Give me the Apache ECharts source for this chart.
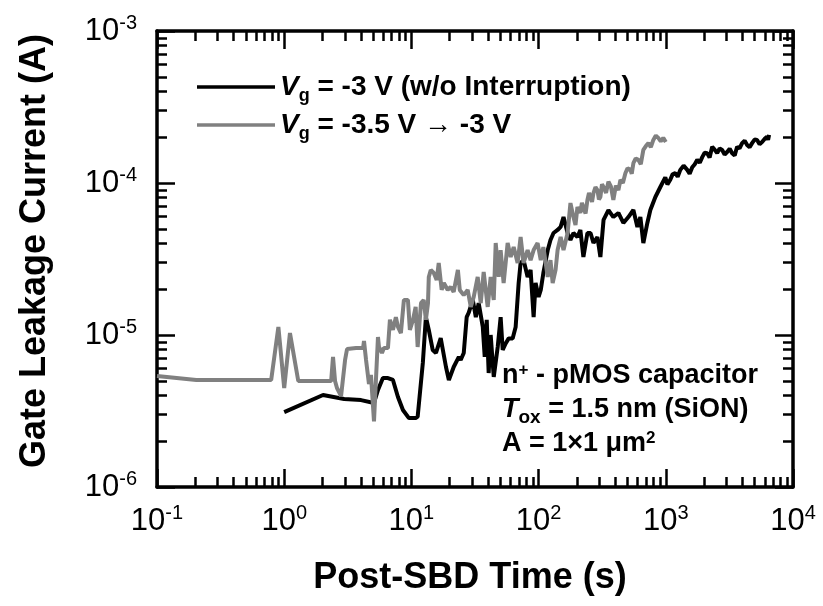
<!DOCTYPE html>
<html><head><meta charset="utf-8">
<script src="https://cdn.jsdelivr.net/npm/echarts@6/dist/echarts.min.js"></script>
<style>html,body{margin:0;padding:0;background:#fff}#c{width:823px;height:606px}</style>
</head><body><div id="c"></div>
<script>
// ---- data (time in s, current in A) ----
const timeBlack = [1.0,2.02,2.96,4.02,5.08,5.46,5.97,6.54,7.16,7.84,8.58,9.56,10.8,11.2,12.3,13.0,13.7,14.7,15.6,17.0,18.7,19.7,21.5,23.6,24.4,25.8,27.2,28.2,30.4,32.1,33.8,36.4,37.7,39.1,40.5,42.0,43.6,44.4,47.7,50.3,52.2,55.1,58.2,62.5,66.0,69.7,72.2,76.2,82.0,86.5,91.4,94.7,100,104,109,118,124,131,141,149,157,169,178,188,202,213,225,242,256,270,290,306,324,354,387,424,464,508,556,598,631,666,716,756,828,906,991,1030,1084,1130,1188,1240,1300,1380,1475,1540,1614,1690,1767,1850,1934,2020,2116,2210,2316,2420,2535,2650,2774,2900,3036,3180,3323,3480,3637,3800,3981,4170,4357,4560,4768,4990,5219,5460,5711,5980,6251,6370,6486];
const currentBlack = [3.11e-6,4.03e-6,3.79e-6,3.73e-6,3.57e-6,4.35e-6,5.21e-6,5.21e-6,5.06e-6,3.91e-6,3.21e-6,2.84e-6,2.84e-6,2.9e-6,6.55e-6,1.31e-5,1.08e-5,7.97e-6,7.62e-6,9.55e-6,6.16e-6,5.06e-6,6.16e-6,7.17e-6,6.85e-6,7.62e-6,1.31e-5,1.40e-5,1.70e-5,1.31e-5,1.62e-5,1.13e-5,7.17e-6,1.26e-5,5.62e-6,1.0e-5,6.5e-6,5.3e-6,8.34e-6,1.31e-5,7.97e-6,8.8e-6,9.5e-6,9.5e-6,1.13e-5,2.20e-5,2.98e-5,3.11e-5,2.41e-5,2.68e-5,1.31e-5,2.20e-5,1.78e-5,1.98e-5,2.56e-5,3.62e-5,4.22e-5,4.69e-5,4.91e-5,5.14e-5,5.97e-5,4.69e-5,4.22e-5,4.69e-5,4.41e-5,4.91e-5,3.26e-5,4.69e-5,4.69e-5,4.03e-5,4.41e-5,3.26e-5,5.71e-5,6.64e-5,5.97e-5,6.35e-5,5.46e-5,5.97e-5,6.64e-5,5.14e-5,5.97e-5,4.03e-5,5.46e-5,6.64e-5,8.09e-5,9.41e-5,1.09e-4,0.98e-4,1.05e-4,1.14e-4,1.16e-4,1.10e-4,1.22e-4,1.30e-4,1.22e-4,1.15e-4,1.27e-4,1.33e-4,1.42e-4,1.36e-4,1.48e-4,1.58e-4,1.57e-4,1.47e-4,1.73e-4,1.66e-4,1.57e-4,1.69e-4,1.65e-4,1.54e-4,1.60e-4,1.68e-4,1.57e-4,1.52e-4,1.73e-4,1.69e-4,1.83e-4,1.90e-4,1.78e-4,1.72e-4,1.83e-4,1.93e-4,1.92e-4,1.80e-4,1.86e-4,1.95e-4,2.01e-4,1.92e-4,2.07e-4];
const timeGray = [0.1,0.204,0.79,0.90,1.0,1.11,1.29,2.34,2.42,2.51,2.60,2.80,3.01,3.12,3.67,4.17,4.24,4.40,4.64,4.81,5.08,5.46,5.56,5.87,6.08,6.54,6.78,7.16,7.55,7.84,8.27,8.73,9.39,9.73,10.3,10.8,11.2,11.9,12.5,13.0,13.5,13.7,14.2,15.0,15.8,16.4,17.3,18.0,19.3,20.4,21.5,23.2,24.0,25.8,27.7,29.3,30.9,33.2,35.1,37.0,39.8,42.0,44.4,46.0,48.6,50.3,53.1,57.1,60.3,63.7,68.4,72.2,76.2,82.0,86.5,91.4,98.2,104,109,118,124,129,136,141,149,157,169,178,188,195,202,213,219,225,234,242,249,256,263,270,280,290,298,306,315,324,339,354,370,387,405,424,440,460,481,500,527,540,556,580,608,636,666,697,730,763,798,835,873,913,955,980,1000];
const currentGray = [5.37e-6,5.06e-6,5.06e-6,1.13e-5,4.48e-6,1.03e-5,4.98e-6,4.98e-6,7.17e-6,4.98e-6,4.48e-6,3.97e-6,6.85e-6,8.09e-6,8.21e-6,8.21e-6,9.14e-6,6.85e-6,4.76e-6,5.46e-6,2.7e-6,9.7e-6,8.34e-6,7.62e-6,8.21e-6,8.21e-6,1.26e-5,1.08e-5,1.31e-5,1.13e-5,1.03e-5,1.70e-5,1.70e-5,1.08e-5,1.26e-5,1.53e-5,8.34e-6,1.62e-5,1.70e-5,1.26e-5,1.62e-5,2.41e-5,2.68e-5,2.56e-5,2.30e-5,2.98e-5,1.98e-5,2.20e-5,1.98e-5,2.07e-5,1.92e-5,2.68e-5,1.98e-5,1.83e-5,1.98e-5,1.53e-5,1.78e-5,2.41e-5,1.62e-5,2.60e-5,1.53e-5,2.41e-5,1.70e-5,4.03e-5,2.41e-5,3.62e-5,2.20e-5,4.03e-5,3.26e-5,3.79e-5,2.98e-5,4.41e-5,2.98e-5,3.62e-5,3.11e-5,3.62e-5,4.03e-5,3.11e-5,3.79e-5,2.41e-5,3.11e-5,2.20e-5,2.68e-5,3.62e-5,4.41e-5,3.62e-5,4.69e-5,7.38e-5,5.97e-5,5.3e-5,6.95e-5,6.35e-5,7.4e-5,6.95e-5,6.3e-5,7.73e-5,8.6e-5,8.09e-5,7.5e-5,8.59e-5,9.4e-5,8.99e-5,7.8e-5,8.09e-5,9.8e-5,9.41e-5,8.6e-5,1.02e-4,9.5e-5,7.73e-5,9.6e-5,8.99e-5,1.05e-4,1.0e-4,1.16e-4,1.25e-4,1.22e-4,1.15e-4,1.35e-4,1.45e-4,1.42e-4,1.33e-4,1.65e-4,1.75e-4,1.83e-4,1.72e-4,1.92e-4,2.05e-4,1.98e-4,1.88e-4,1.98e-4,2.02e-4,1.86e-4];
const seriesNames = ['Vg = -3 V (w/o Interruption)', 'Vg = -3.5 V -> -3 V'];
const xMajorTicks = [0.1, 1, 10, 100, 1000, 10000];
const yMajorTicks = [1e-6, 1e-5, 1e-4, 1e-3];
const xTitle = 'Post-SBD Time (s)';
const yTitle = 'Gate Leakage Current (A)';

// minor tick positions 2..9 x 10^n
function minors(majors){const out=[];for(let i=0;i<majors.length-1;i++){for(let k=2;k<=9;k++){out.push(+(majors[i]*k).toPrecision(3));}}return out;}
const xMinorTicks = minors(xMajorTicks);
const yMinorTicks = minors(yMajorTicks);

const FONT = '"Liberation Sans", Arial, sans-serif';
const pow10 = v => '{b|10}{s|' + Math.round(Math.log10(v)) + '}';
const labelRich = {
  b: {fontFamily: FONT, fontSize: 31, color: '#000'},
  s: {fontFamily: FONT, fontSize: 20, color: '#000', padding: [0, 0, 16, 0]}
};
const lineW = 3.5;
function xAxisDef(pos, major, showLabel){
  return {
    type: 'log', logBase: 10, min: 0.1, max: 10000, position: pos,
    axisLine: {show: major, onZero: false, lineStyle: {color: '#000', width: lineW}},
    axisTick: {show: true, inside: true, length: major ? 18 : 10, customValues: major ? xMajorTicks : xMinorTicks, lineStyle: {color: '#000', width: 2.5}},
    axisLabel: {show: showLabel, customValues: xMajorTicks, margin: 16, formatter: pow10, rich: labelRich},
    splitLine: {show: false}, minorTick: {show: false}
  };
}
function yAxisDef(pos, major, showLabel){
  return {
    type: 'log', logBase: 10, min: 1e-6, max: 1e-3, position: pos,
    axisLine: {show: major, onZero: false, lineStyle: {color: '#000', width: lineW}},
    axisTick: {show: true, inside: true, length: major ? 18 : 10, customValues: major ? yMajorTicks : yMinorTicks, lineStyle: {color: '#000', width: 2.5}},
    axisLabel: {show: showLabel, customValues: yMajorTicks, margin: 20, formatter: pow10, rich: labelRich},
    splitLine: {show: false}, minorTick: {show: false}
  };
}
const legendRich = {
  i: {fontFamily: FONT, fontSize: 28, fontWeight: 'bold', fontStyle: 'italic', color: '#000'},
  g: {fontFamily: FONT, fontSize: 18, fontWeight: 'bold', color: '#000', padding: [18, 0, 0, 0]},
  t: {fontFamily: FONT, fontSize: 28, fontWeight: 'bold', color: '#000'}
};
const legendText = {};
legendText[seriesNames[0]] = '{i|V}{g|g}{t| = -3 V (w/o Interruption)}';
legendText[seriesNames[1]] = '{i|V}{g|g}{t| = -3.5 V \u2192 -3 V}';

const annRich = {
  t: {fontFamily: FONT, fontSize: 27, fontWeight: 'bold', color: '#000'},
  i: {fontFamily: FONT, fontSize: 27, fontWeight: 'bold', fontStyle: 'italic', color: '#000'},
  sup: {fontFamily: FONT, fontSize: 17, fontWeight: 'bold', color: '#000', padding: [0, 0, 12, 0]},
  sub: {fontFamily: FONT, fontSize: 19, fontWeight: 'bold', color: '#000', padding: [16, 0, 0, 0]}
};

const chart = echarts.init(document.getElementById('c'), null, {renderer: 'canvas'});
chart.setOption({
  animation: false,
  backgroundColor: '#fff',
  grid: {left: 157, right: 30, top: 31, bottom: 119, containLabel: false},
  xAxis: [xAxisDef('bottom', true, true), xAxisDef('bottom', false, false), xAxisDef('top', true, false), xAxisDef('top', false, false)],
  yAxis: [yAxisDef('left', true, true), yAxisDef('left', false, false), yAxisDef('right', true, false), yAxisDef('right', false, false)],
  legend: {
    orient: 'vertical', left: 192, top: 68, itemWidth: 78, itemHeight: 3.5, itemGap: 6,
    icon: 'rect',
    data: seriesNames,
    formatter: n => legendText[n],
    textStyle: {fontFamily: FONT, fontSize: 28, fontWeight: 'bold', color: '#000', rich: legendRich}
  },
  series: [
    {name: seriesNames[0], type: 'line', xAxisIndex: 0, yAxisIndex: 0, showSymbol: false, symbol: 'none',
     lineStyle: {color: '#000', width: 4}, itemStyle: {color: '#000'},
     data: timeBlack.map((t, i) => [t, currentBlack[i]])},
    {name: seriesNames[1], type: 'line', xAxisIndex: 0, yAxisIndex: 0, showSymbol: false, symbol: 'none',
     lineStyle: {color: '#808080', width: 4}, itemStyle: {color: '#808080'},
     data: timeGray.map((t, i) => [t, currentGray[i]])}
  ],
  graphic: [
    {type: 'text', x: 470, y: 578, style: {text: xTitle, font: 'bold 36px ' + FONT, fill: '#000', align: 'center', verticalAlign: 'middle'}},
    {type: 'text', x: 35, y: 251, rotation: Math.PI / 2, style: {text: yTitle, font: 'bold 36px ' + FONT, fill: '#000', align: 'center', verticalAlign: 'middle'}},
    {type: 'text', x: 502, y: 376, style: {text: '{t|n}{sup|+}{t| - pMOS capacitor}', rich: annRich, verticalAlign: 'middle', align: 'left'}},
    {type: 'text', x: 502, y: 410, style: {text: '{i|T}{sub|ox}{t| = 1.5 nm (SiON)}', rich: annRich, verticalAlign: 'middle', align: 'left'}},
    {type: 'text', x: 502, y: 444, style: {text: '{t|A = 1\u00d71 \u03bcm}{sup|2}', rich: annRich, verticalAlign: 'middle', align: 'left'}}
  ]
});
</script></body></html>
